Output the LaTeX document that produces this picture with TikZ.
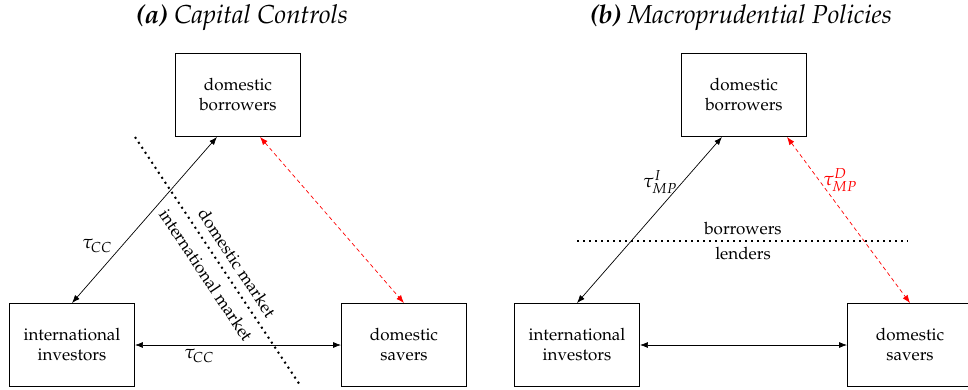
\documentclass[tikz,border=0pt]{standalone}
\usepackage[T1]{fontenc}
\usepackage{mathpazo}
\usetikzlibrary{arrows.meta}
\begin{document}
\begin{tikzpicture}[x=1pt,y=-1pt,
  box/.style={draw, line width=0.9pt, minimum width=125pt, minimum height=83pt, align=center, font=\fontsize{17}{20}\selectfont, inner sep=0pt},
  lbl/.style={font=\fontsize{17}{20}\selectfont, inner sep=0pt},
  mlbl/.style={font=\fontsize{19}{22}\selectfont, inner sep=0pt},
  ttl/.style={font=\fontsize{26}{30}\selectfont, inner sep=0pt},
  conn/.style={line width=0.7pt, {Latex[length=8pt,width=6pt]}-{Latex[length=8pt,width=6pt]}},
  redconn/.style={conn, red, dash pattern=on 4pt off 3pt},
  sep/.style={line width=2pt, dash pattern=on 2pt off 4pt},
]
\useasboundingbox (0,0) rectangle (968,389);
\clip (0,0) rectangle (968,389);
% ---------- panel (a)
\node[ttl] (ta) at (242,18) {\textbf{\textit{(a)}} \textit{Capital Controls}};
\node[box] (ab) at (238,95) {domestic\\borrowers};
\node[box] (ai) at (72,345) {international\\investors};
\node[box] (as) at (404,345) {domestic\\savers};
\draw[conn] (ai.north) -- ([xshift=-21pt]ab.south);
\draw[redconn] ([xshift=22pt]ab.south) -- (as.north);
\draw[conn] (ai.east) -- (as.west);
\node[mlbl] (l1) at (97,246) {$\tau_{CC}$};
\node[mlbl] (l2) at (199,356) {$\tau_{CC}$};
\coordinate (d1) at (135,137);
\coordinate (d2) at (300,385);
\draw[sep] (d1) -- (d2);
\node[lbl, rotate=-56.4] (dm) at (237,263) {domestic market};
\node[lbl, rotate=-56.4] (im) at (206,275) {international market};
% ---------- panel (b)
\node[ttl] (tb) at (741,18) {\textbf{\textit{(b)}} \textit{Macroprudential Policies}};
\node[box] (bb) at (744,95) {domestic\\borrowers};
\node[box] (bi) at (577,345) {international\\investors};
\node[box] (bs) at (910,345) {domestic\\savers};
\draw[conn] (bi.north) -- ([xshift=-22pt]bb.south);
\draw[redconn] ([xshift=43pt]bb.south) -- (bs.north);
\draw[conn] (bi.east) -- (bs.west);
\node[mlbl] (l3) at (660,182) {$\tau^{I}_{MP}$};
\node[mlbl, text=red] (l4) at (840,180) {$\tau^{D}_{MP}$};
\coordinate (h1) at (577,241);
\coordinate (h2) at (908,241);
\draw[sep] (h1) -- (h2);
\node[lbl] (bw) at (743,229) {borrowers};
\node[lbl] (ld) at (743,254) {lenders};
\end{tikzpicture}
\end{document}
